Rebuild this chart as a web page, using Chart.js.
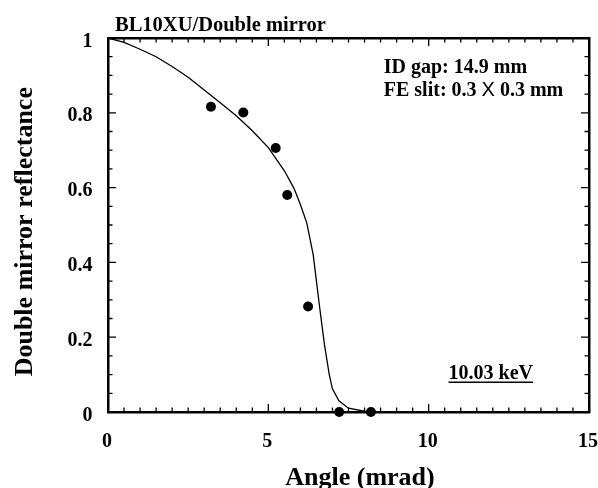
<!DOCTYPE html>
<html><head><meta charset="utf-8">
<script src="https://cdn.jsdelivr.net/npm/chart.js@4"></script>
<style>html,body{margin:0;padding:0;background:#fff}</style>
</head><body>
<canvas id="c" width="598" height="488"></canvas>
<script>
// ---- data ----
const curveAngle = [0, 0.5, 1, 1.5, 2, 2.5, 3, 3.5, 4, 4.5, 5, 5.5, 5.8, 6, 6.2, 6.4, 6.6, 6.75, 6.9, 7, 7.2, 7.5, 8, 8.2];
const curveReflectance = [1.000, 0.988, 0.970, 0.950, 0.924, 0.895, 0.861, 0.827, 0.792, 0.752, 0.707, 0.645, 0.598, 0.555, 0.505, 0.420, 0.280, 0.180, 0.100, 0.062, 0.030, 0.010, 0.002, 0.000];
const measAngle = [3.21, 4.22, 5.23, 5.59, 6.24, 7.21, 8.2];
const measReflectance = [0.816, 0.801, 0.706, 0.580, 0.282, 0.0, 0.0];
const xTicks = [0, 5, 10, 15];
const xTickLabels = ['0', '5', '10', '15'];
const yTicks = [0, 0.2, 0.4, 0.6, 0.8, 1];
const yTickLabels = ['0', '0.2', '0.4', '0.6', '0.8', '1'];
const xMinorStep = 0.5;
const yMinorStep = 0.05;
const chartTitle = 'BL10XU/Double mirror';
const xTitle = 'Angle (mrad)';
const yTitle = 'Double mirror reflectance';
const noteLine1 = 'ID gap: 14.9 mm';
const noteLine2 = ['FE slit: 0.3 ', 'X', ' 0.3 mm'];
const energyLabel = '10.03 keV';

const FAMILY = '"Liberation Serif", "Times New Roman", serif';

const decor = {
  id: 'decor',
  afterDatasetsDraw(chart) {
    const {ctx, chartArea: a, scales: {x, y}} = chart;
    ctx.save();
    ctx.strokeStyle = '#000';
    ctx.lineWidth = 1.3;
    ctx.beginPath();
    const nx = Math.round((x.max - x.min) / xMinorStep);
    for (let i = 0; i <= nx; i++) {
      const v = x.min + i * xMinorStep;
      const major = xTicks.some(t => Math.abs(t - v) < 1e-6);
      const L = major ? 8 : 4.5;
      const px = x.getPixelForValue(v);
      ctx.moveTo(px, a.bottom); ctx.lineTo(px, a.bottom - L);
      ctx.moveTo(px, a.top); ctx.lineTo(px, a.top + L);
    }
    const ny = Math.round((y.max - y.min) / yMinorStep);
    for (let i = 0; i <= ny; i++) {
      const v = y.min + i * yMinorStep;
      const major = yTicks.some(t => Math.abs(t - v) < 1e-6);
      const L = major ? 8 : 4.5;
      const py = y.getPixelForValue(v);
      ctx.moveTo(a.left, py); ctx.lineTo(a.left + L, py);
      ctx.moveTo(a.right, py); ctx.lineTo(a.right - L, py);
    }
    ctx.stroke();

    ctx.fillStyle = '#000';
    ctx.textBaseline = 'alphabetic';
    // chart title
    ctx.font = 'bold 20.5px ' + FAMILY;
    ctx.textAlign = 'left';
    ctx.fillText(chartTitle, a.left + 7, a.top - 7.5);

    // notes
    ctx.font = 'bold 20px ' + FAMILY;
    const nx0 = x.getPixelForValue(8.6);
    ctx.fillText(noteLine1, nx0, y.getPixelForValue(0.906));
    let cx = nx0;
    const ny2 = y.getPixelForValue(0.846);
    noteLine2.forEach((part, i) => {
      ctx.font = (i === 1 ? 'normal 20px "Liberation Sans", sans-serif' : 'bold 20px ' + FAMILY);
      ctx.fillText(part, cx, ny2);
      cx += ctx.measureText(part).width;
    });

    // energy label underlined
    ctx.font = 'bold 20px ' + FAMILY;
    const ex = x.getPixelForValue(10.62);
    const ey = y.getPixelForValue(0.0875);
    ctx.fillText(energyLabel, ex, ey);
    const ew = ctx.measureText(energyLabel).width;
    ctx.lineWidth = 1.5;
    ctx.beginPath();
    ctx.moveTo(ex, ey + 3); ctx.lineTo(ex + ew, ey + 3);
    ctx.stroke();

    // axis titles
    ctx.font = 'bold 26px ' + FAMILY;
    ctx.textAlign = 'center';
    ctx.fillText(xTitle, a.left + 252, a.bottom + 73);
    ctx.save();
    ctx.translate(a.left - 76.3, a.top + 193.7);
    ctx.rotate(-Math.PI / 2);
    ctx.fillText(yTitle, 0, 0);
    ctx.restore();
    ctx.restore();
  }
};

const tickFont = {family: FAMILY, size: 20, weight: 'bold'};
const border = {display: true, color: '#000', width: 2.5};

new Chart(document.getElementById('c'), {
  type: 'scatter',
  data: {
    datasets: [
      {
        label: 'calc',
        data: curveAngle.map((v, i) => ({x: v, y: curveReflectance[i]})),
        showLine: true,
        pointRadius: 0,
        borderColor: '#000',
        borderWidth: 1.3,
        tension: 0,
        fill: false
      },
      {
        label: 'meas',
        data: measAngle.map((v, i) => ({x: v, y: measReflectance[i]})),
        showLine: false,
        pointRadius: 5,
        pointBackgroundColor: '#000',
        pointBorderColor: '#000',
        pointBorderWidth: 0,
        clip: false
      }
    ]
  },
  options: {
    responsive: false,
    animation: false,
    devicePixelRatio: 1,
    layout: {padding: {top: 38, right: 9, left: 0, bottom: 0}},
    plugins: {legend: {display: false}, tooltip: {enabled: false}, title: {display: false}},
    scales: {
      x: {
        type: 'linear', position: 'bottom', min: 0, max: 15,
        afterBuildTicks: s => { s.ticks = xTicks.map(v => ({value: v})); },
        ticks: {callback: (v, i) => xTickLabels[i], font: tickFont, color: '#000', padding: 17.5, labelOffset: -1, maxRotation: 0, autoSkip: false},
        grid: {display: false, drawTicks: false},
        border: border,
        afterFit: s => { s.height = 76; s.paddingLeft = 0; s.paddingRight = 0; }
      },
      y: {
        type: 'linear', position: 'left', min: 0, max: 1,
        afterBuildTicks: s => { s.ticks = yTicks.map(v => ({value: v})); },
        ticks: {callback: (v, i) => yTickLabels[i], font: tickFont, color: '#000', padding: 15.5, labelOffset: 3.5, autoSkip: false},
        grid: {display: false, drawTicks: false},
        border: border,
        afterFit: s => { s.width = 108; s.paddingTop = 0; s.paddingBottom = 0; }
      },
      x2: {
        type: 'linear', position: 'top', min: 0, max: 15,
        ticks: {display: false},
        grid: {display: false, drawTicks: false},
        border: border,
        afterFit: s => { s.height = 0; s.paddingLeft = 0; s.paddingRight = 0; }
      },
      y2: {
        type: 'linear', position: 'right', min: 0, max: 1,
        ticks: {display: false},
        grid: {display: false, drawTicks: false},
        border: border,
        afterFit: s => { s.width = 0; s.paddingTop = 0; s.paddingBottom = 0; }
      }
    }
  },
  plugins: [decor]
});
</script>
</body></html>
